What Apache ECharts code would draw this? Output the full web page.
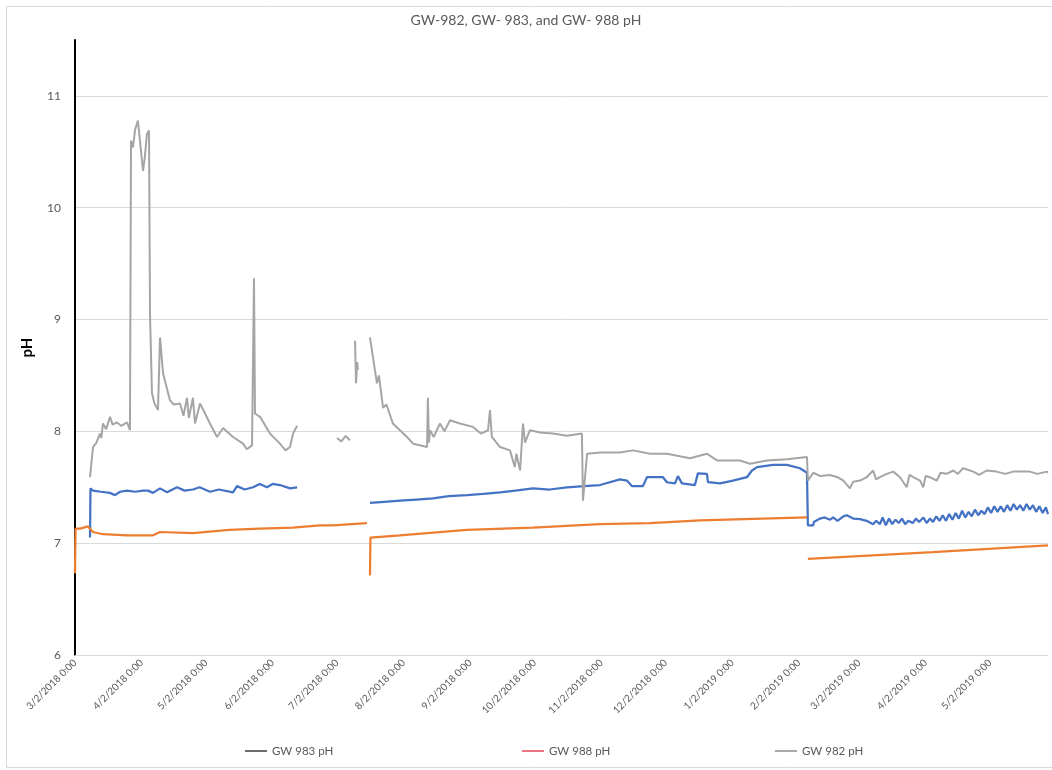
<!DOCTYPE html>
<html>
<head>
<meta charset="utf-8">
<script src="https://cdn.jsdelivr.net/npm/echarts@6/dist/echarts.min.js"></script>
<style>
html,body{margin:0;padding:0;background:#fff;}
#chart{width:1052px;height:770px;}
</style>
</head>
<body>
<div id="chart"></div>
<script>
// ---- Data ----
const titleText = 'GW-982, GW- 983, and GW- 988 pH';
const seriesNames = ['GW 983 pH', 'GW 988 pH', 'GW 982 pH'];
const xTickDates = ['2018-03-02','2018-04-02','2018-05-02','2018-06-02','2018-07-02','2018-08-02','2018-09-02','2018-10-02','2018-11-02','2018-12-02','2019-01-02','2019-02-02','2019-03-02','2019-04-02','2019-05-02'];
const xMin = '2018-03-02 00:00';
const xMax = '2019-05-29 00:00';
const yMin = 6, yMax = 11.5, yStep = 1;

const gw983 = [
['2018-03-09 00:00',7.05],['2018-03-09 05:00',7.49],['2018-03-10 09:00',7.47],['2018-03-14 00:00',7.46],
['2018-03-18 07:00',7.45],['2018-03-20 15:00',7.43],['2018-03-23 00:00',7.46],['2018-03-26 05:00',7.47],
['2018-03-30 00:00',7.46],['2018-04-02 16:00',7.47],['2018-04-05 00:00',7.47],['2018-04-07 07:00',7.45],
['2018-04-10 14:00',7.49],['2018-04-13 20:00',7.455],['2018-04-18 12:00',7.50],['2018-04-22 00:00',7.47],
['2018-04-25 22:00',7.48],['2018-04-29 00:00',7.50],['2018-05-03 20:00',7.46],['2018-05-08 00:00',7.48],
['2018-05-14 14:00',7.455],['2018-05-16 10:00',7.51],['2018-05-20 00:00',7.48],['2018-05-23 21:00',7.50],
['2018-05-27 00:00',7.53],['2018-05-30 09:00',7.50],['2018-06-02 00:00',7.53],['2018-06-05 10:00',7.52],
['2018-06-10 02:00',7.49],['2018-06-13 10:00',7.50],['2018-06-20 00:00','-'],
['2018-07-17 08:00',7.36],['2018-07-24 00:00',7.37],['2018-07-31 07:00',7.38],['2018-08-08 00:00',7.39],
['2018-08-15 16:00',7.40],['2018-08-23 00:00',7.42],['2018-08-31 12:00',7.43],['2018-09-08 00:00',7.44],
['2018-09-15 22:00',7.455],['2018-09-23 00:00',7.47],['2018-10-01 05:00',7.49],['2018-10-09 00:00',7.48],
['2018-10-17 02:00',7.50],['2018-10-25 00:00',7.51],['2018-11-01 10:00',7.52],['2018-11-10 17:00',7.57],
['2018-11-13 23:00',7.56],['2018-11-16 08:00',7.51],['2018-11-21 10:00',7.51],['2018-11-23 07:00',7.59],
['2018-11-30 18:00',7.59],['2018-12-02 14:00',7.545],['2018-12-06 08:00',7.535],['2018-12-07 17:00',7.60],
['2018-12-09 14:00',7.535],['2018-12-15 15:00',7.52],['2018-12-17 00:00',7.625],['2018-12-21 05:00',7.62],
['2018-12-21 17:00',7.545],['2018-12-27 07:00',7.535],['2019-01-02 08:00',7.56],['2019-01-08 20:00',7.59],
['2019-01-11 04:00',7.65],['2019-01-13 13:00',7.68],['2019-01-21 00:00',7.70],['2019-01-27 12:00',7.70],
['2019-02-02 12:00',7.67],['2019-02-05 19:00',7.63],['2019-02-06 05:00',7.16],['2019-02-08 17:00',7.16],
['2019-02-09 00:00',7.19],['2019-02-11 20:00',7.22],['2019-02-14 00:00',7.23],['2019-02-16 12:00',7.21],
['2019-02-18 00:00',7.23],['2019-02-20 00:00',7.20],['2019-02-22 17:00',7.24],['2019-02-24 09:00',7.25],
['2019-02-27 07:00',7.22],['2019-03-02 12:00',7.215],['2019-03-05 14:00',7.20],['2019-03-08 14:00',7.17],
['2019-03-10 00:00',7.20],['2019-03-11 19:00',7.17],['2019-03-13 00:00',7.23],['2019-03-14 12:00',7.16],
['2019-03-16 00:00',7.22],['2019-03-17 12:00',7.17],['2019-03-19 00:00',7.21],['2019-03-20 12:00',7.18],
['2019-03-22 00:00',7.22],['2019-03-23 12:00',7.17],['2019-03-25 00:00',7.20],['2019-03-27 00:00',7.18],
['2019-03-28 12:00',7.22],['2019-03-30 00:00',7.19],['2019-04-01 00:00',7.23],['2019-04-02 12:00',7.18],
['2019-04-04 00:00',7.22],['2019-04-05 12:00',7.19],['2019-04-07 00:00',7.24],['2019-04-08 12:00',7.20],
['2019-04-10 00:00',7.25],['2019-04-11 12:00',7.20],['2019-04-13 00:00',7.26],['2019-04-14 12:00',7.21],
['2019-04-16 00:00',7.27],['2019-04-17 12:00',7.22],['2019-04-19 00:00',7.29],['2019-04-20 12:00',7.23],
['2019-04-22 00:00',7.28],['2019-04-23 12:00',7.24],['2019-04-25 00:00',7.30],['2019-04-26 12:00',7.25],
['2019-04-28 00:00',7.29],['2019-04-29 12:00',7.26],['2019-05-01 00:00',7.32],['2019-05-02 12:00',7.27],
['2019-05-04 00:00',7.33],['2019-05-05 12:00',7.28],['2019-05-07 00:00',7.33],['2019-05-08 12:00',7.28],
['2019-05-10 00:00',7.34],['2019-05-11 12:00',7.29],['2019-05-13 00:00',7.35],['2019-05-14 12:00',7.30],
['2019-05-16 00:00',7.34],['2019-05-17 12:00',7.29],['2019-05-19 00:00',7.35],['2019-05-20 12:00',7.30],
['2019-05-22 00:00',7.34],['2019-05-23 12:00',7.28],['2019-05-25 00:00',7.33],['2019-05-26 12:00',7.27],
['2019-05-28 00:00',7.32],['2019-05-29 00:00',7.26]
];

const gw988 = [
['2018-03-02 00:00',6.73],['2018-03-02 06:00',7.13],['2018-03-04 08:00',7.13],['2018-03-08 01:00',7.15],
['2018-03-10 09:00',7.10],['2018-03-15 00:00',7.08],['2018-03-26 05:00',7.07],['2018-04-07 07:00',7.07],
['2018-04-10 14:00',7.10],['2018-04-25 22:00',7.09],['2018-05-12 18:00',7.12],['2018-05-27 03:00',7.13],
['2018-06-11 12:00',7.14],['2018-06-24 01:00',7.16],['2018-06-30 03:00',7.16],['2018-07-15 22:00',7.18],
['2018-07-16 12:00','-'],
['2018-07-17 08:00',6.71],['2018-07-17 13:00',7.05],['2018-07-31 07:00',7.07],['2018-08-31 12:00',7.12],
['2018-10-01 05:00',7.14],['2018-11-01 10:00',7.17],['2018-11-24 17:00',7.18],['2018-12-17 23:00',7.205],
['2019-02-05 19:00',7.23],['2019-02-06 00:00','-'],
['2019-02-06 05:00',6.86],['2019-04-05 10:00',6.92],['2019-05-29 00:00',6.98]
];

const gw982 = [
['2018-03-09 00:00',7.59],['2018-03-10 09:00',7.86],['2018-03-12 00:00',7.90],['2018-03-13 15:00',7.98],
['2018-03-14 06:00',7.94],['2018-03-15 00:00',8.07],['2018-03-16 12:00',8.02],['2018-03-18 07:00',8.13],
['2018-03-19 12:00',8.06],['2018-03-21 13:00',8.08],['2018-03-23 12:00',8.05],['2018-03-26 05:00',8.08],
['2018-03-27 14:00',8.01],['2018-03-28 02:00',10.60],['2018-03-29 00:00',10.54],['2018-03-30 00:00',10.70],
['2018-03-31 07:00',10.78],['2018-04-01 12:00',10.55],['2018-04-02 16:00',10.33],['2018-04-03 12:00',10.45],
['2018-04-04 12:00',10.66],['2018-04-05 11:00',10.69],['2018-04-05 22:00',9.05],['2018-04-06 20:00',8.34],
['2018-04-08 00:00',8.25],['2018-04-09 15:00',8.19],['2018-04-10 14:00',8.84],['2018-04-12 00:00',8.52],
['2018-04-15 04:00',8.28],['2018-04-17 00:00',8.24],['2018-04-19 21:00',8.25],['2018-04-21 12:00',8.14],
['2018-04-23 03:00',8.30],['2018-04-24 00:00',8.12],['2018-04-25 22:00',8.30],['2018-04-26 21:00',8.07],
['2018-04-29 05:00',8.25],['2018-05-03 20:00',8.07],['2018-05-07 03:00',7.95],['2018-05-09 22:00',8.03],
['2018-05-14 14:00',7.95],['2018-05-19 05:00',7.89],['2018-05-21 00:00',7.84],['2018-05-23 10:00',7.875],
['2018-05-24 08:00',9.37],['2018-05-24 19:00',8.16],['2018-05-27 03:00',8.13],['2018-05-31 19:00',7.98],
['2018-06-05 10:00',7.89],['2018-06-08 00:00',7.83],['2018-06-10 02:00',7.86],['2018-06-11 12:00',7.98],
['2018-06-13 10:00',8.05],['2018-06-20 00:00','-'],
['2018-07-02 00:00',7.94],['2018-07-04 00:00',7.91],['2018-07-06 00:00',7.96],['2018-07-08 00:00',7.92],
['2018-07-09 12:00','-'],
['2018-07-10 09:00',8.81],['2018-07-10 20:00',8.43],['2018-07-11 09:00',8.62],['2018-07-11 18:00',8.55],
['2018-07-14 00:00','-'],
['2018-07-17 08:00',8.84],['2018-07-20 14:00',8.43],['2018-07-21 12:00',8.50],['2018-07-23 10:00',8.21],
['2018-07-25 00:00',8.24],['2018-07-28 00:00',8.07],['2018-08-03 14:00',7.95],['2018-08-06 10:00',7.89],
['2018-08-12 22:00',7.86],['2018-08-13 07:00',8.30],['2018-08-13 18:00',7.90],['2018-08-14 07:00',8.01],
['2018-08-16 00:00',7.95],['2018-08-18 22:00',8.07],['2018-08-21 00:00',8.00],['2018-08-23 14:00',8.10],
['2018-08-28 05:00',8.07],['2018-09-03 07:00',8.04],['2018-09-07 00:00',7.98],['2018-09-10 07:00',8.01],
['2018-09-11 05:00',8.19],['2018-09-12 02:00',7.95],['2018-09-15 22:00',7.86],['2018-09-20 12:00',7.83],
['2018-09-22 19:00',7.68],['2018-09-23 12:00',7.80],['2018-09-25 05:00',7.65],['2018-09-26 14:00',8.07],
['2018-09-27 12:00',7.90],['2018-09-29 19:00',8.01],['2018-10-04 12:00',7.99],['2018-10-10 12:00',7.98],
['2018-10-17 02:00',7.96],['2018-10-24 00:00',7.98],['2018-10-24 12:00',7.38],['2018-10-26 10:00',7.80],
['2018-11-01 10:00',7.81],['2018-11-10 17:00',7.81],['2018-11-16 19:00',7.83],['2018-11-24 17:00',7.80],
['2018-12-02 14:00',7.80],['2018-12-13 07:00',7.76],['2018-12-21 05:00',7.80],['2018-12-25 22:00',7.74],
['2019-01-05 14:00',7.74],['2019-01-10 05:00',7.71],['2019-01-18 05:00',7.74],['2019-01-27 12:00',7.75],
['2019-02-05 19:00',7.77],['2019-02-06 05:00',7.56],['2019-02-08 17:00',7.63],['2019-02-12 00:00',7.60],
['2019-02-16 12:00',7.61],['2019-02-20 00:00',7.59],['2019-02-22 17:00',7.56],['2019-02-25 19:00',7.49],
['2019-02-27 07:00',7.55],['2019-03-02 12:00',7.56],['2019-03-05 14:00',7.59],['2019-03-08 14:00',7.65],
['2019-03-10 00:00',7.57],['2019-03-11 19:00',7.59],['2019-03-14 22:00',7.62],['2019-03-18 00:00',7.64],
['2019-03-21 02:00',7.59],['2019-03-24 05:00',7.50],['2019-03-25 12:00',7.61],['2019-03-27 07:00',7.59],
['2019-03-30 10:00',7.56],['2019-03-31 22:00',7.50],['2019-04-02 00:00',7.60],['2019-04-04 00:00',7.59],
['2019-04-07 05:00',7.56],['2019-04-09 00:00',7.63],['2019-04-11 19:00',7.62],['2019-04-14 22:00',7.65],
['2019-04-17 00:00',7.62],['2019-04-19 12:00',7.67],['2019-04-24 05:00',7.64],['2019-04-27 00:00',7.61],
['2019-04-30 10:00',7.65],['2019-05-05 02:00',7.64],['2019-05-09 00:00',7.62],['2019-05-12 19:00',7.64],
['2019-05-20 14:00',7.64],['2019-05-24 00:00',7.62],['2019-05-28 10:00',7.64],['2019-05-29 00:00',7.63]
];

// ---- Styles ----
const seriesColors = ['#4472C4', '#ED7D31', '#A5A5A5'];
const legendColors = ['#3a3a3a', '#e2475c', '#8c8c8c'];
const legendLefts = [240, 517, 770];
const FONT = 'Lato, "Liberation Sans", sans-serif';

function toTime(s) {
  const p = s.split(/[- :]/).map(Number);
  return new Date(p[0], p[1] - 1, p[2], p[3] || 0, p[4] || 0).getTime();
}
const tickValues = xTickDates.map(toTime);

const chart = echarts.init(document.getElementById('chart'), null, {renderer: 'canvas'});
const dataSets = [gw983, gw988, gw982].map(ds => ds.map(p => [toTime(p[0]), p[1]]));

const option = {
  animation: false,
  backgroundColor: '#fff',
  textStyle: {fontFamily: FONT},
  title: {
    text: titleText, left: 'center', top: 8,
    textStyle: {fontFamily: FONT, fontSize: 14, fontWeight: 'normal', color: '#595959'}
  },
  graphic: [{
    type: 'rect', left: 4, top: 4, silent: true, z: -1,
    shape: {width: 1060, height: 761},
    style: {fill: 'none', stroke: '#d9d9d9', lineWidth: 1}
  }],
  legend: seriesNames.map((n, i) => ({
    left: legendLefts[i], top: 740,
    icon: 'rect', itemWidth: 22, itemHeight: 1.5, itemGap: 4,
    textStyle: {fontFamily: FONT, fontSize: 11.5, color: '#595959'},
    data: [{name: n, itemStyle: {color: legendColors[i]}}]
  })),
  grid: {left: 75, right: 4, top: 40, bottom: 115, containLabel: false},
  xAxis: {
    type: 'value', min: toTime(xMin), max: toTime(xMax),
    axisLine: {show: true, lineStyle: {color: '#d9d9d9', width: 1}},
    axisTick: {show: false},
    splitLine: {show: false},
    axisLabel: {
      customValues: tickValues,
      rotate: 45, fontSize: 10, color: '#595959', fontFamily: FONT, margin: 6,
      hideOverlap: false,
      formatter: function (v) {
        const d = new Date(v);
        return (d.getMonth() + 1) + '/' + d.getDate() + '/' + d.getFullYear() + ' 0:00';
      }
    }
  },
  yAxis: {
    type: 'value', min: yMin, max: yMax, interval: yStep,
    name: 'pH', nameLocation: 'middle', nameGap: 40, nameRotate: 90,
    nameTextStyle: {fontFamily: FONT, fontSize: 15, fontWeight: 'bold', color: '#000'},
    axisLine: {show: true, lineStyle: {color: '#000', width: 2}},
    axisTick: {show: false},
    splitLine: {show: true, showMaxLine: false, lineStyle: {color: '#d9d9d9', width: 1}},
    axisLabel: {
      fontSize: 12, color: '#595959', fontFamily: FONT, margin: 14,
      formatter: function (v) { return Number.isInteger(v) ? String(v) : ''; }
    }
  },
  series: seriesNames.map((n, i) => ({
    name: n, type: 'line', symbol: 'none', showSymbol: false,
    connectNulls: false,
    lineStyle: {color: seriesColors[i], width: i === 2 ? 2 : 2.25},
    itemStyle: {color: seriesColors[i]},
    data: dataSets[i]
  }))
};
chart.setOption(option);
</script>
</body>
</html>
